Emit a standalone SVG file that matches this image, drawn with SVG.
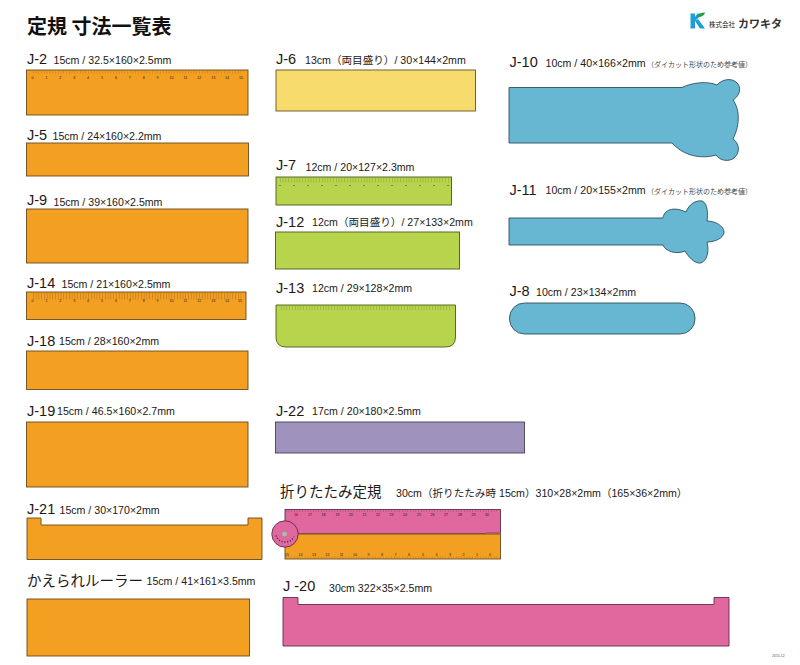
<svg xmlns="http://www.w3.org/2000/svg" width="800" height="665" viewBox="0 0 800 665">
<style>
text{font-family:"Liberation Sans","Noto Sans CJK JP",sans-serif;fill:#231815}
.d{font-size:10.6px}
.j{font-size:14.5px}
.o{fill:#f39f22;stroke:#6b4a1e;stroke-width:.9}
.y{fill:#f7db6d;stroke:#5f5426;stroke-width:.9}
.g{fill:#b7d44c;stroke:#4b5a1c;stroke-width:.9}
.b{fill:#68b7d2;stroke:#2e4f5c;stroke-width:.9}
.p{fill:#e1689f;stroke:#5e2f47;stroke-width:.9}
.v{fill:#9f92bd;stroke:#443f55;stroke-width:.9}
.k{stroke:#b5791f;stroke-width:.5;fill:none}
.kg{stroke:#8ba338;stroke-width:.5;fill:none}
.kn{font-size:3.6px;text-anchor:middle}
</style>
<g id="header">
<text x="27" y="34" font-size="20" font-weight="700" style="font-family:'Noto Sans CJK JP',sans-serif;fill:#111">定規 寸法一覧表</text>
</g>
<g id="logo">
<path d="M690.500 13.500H695V28.500H690.500Z" fill="#1d9fd6"/>
<path d="M695 21L703 13.500H697.500L695 17ZM695 21L700 28.500H705L698 19Z" fill="#1d9fd6"/>
<path d="M697 17C698 14 701 12.500 705 12.500C704.500 15.500 701 17.500 697 17Z" fill="#2b9a46"/>
<text x="709" y="27" font-size="6.500" style="font-family:'Noto Sans CJK JP',sans-serif">株式会社</text>
<text x="738" y="28" font-size="11" font-weight="700" style="font-family:'Noto Sans CJK JP',sans-serif;fill:#333">カワキタ</text>
</g>
<g id="J-2">
<text class="j" x="27" y="64">J-2</text><text class="d" x="53.500" y="64">15cm / 32.5×160×2.5mm</text>
<rect class="o" x="26.500" y="70" width="221.500" height="45"/>
<line class="k" x1="33" y1="72" x2="241" y2="72" style="stroke-width:3;stroke-dasharray:.5 2.270"/>
<g class="kn"><text x="32.500" y="78.500">0</text><text x="46.400" y="78.500">1</text><text x="60.300" y="78.500">2</text><text x="74.200" y="78.500">3</text><text x="88.100" y="78.500">4</text><text x="102" y="78.500">5</text><text x="115.900" y="78.500">6</text><text x="129.800" y="78.500">7</text><text x="143.700" y="78.500">8</text><text x="157.600" y="78.500">9</text><text x="171.500" y="78.500">10</text><text x="185.400" y="78.500">11</text><text x="199.300" y="78.500">12</text><text x="213.200" y="78.500">13</text><text x="227.100" y="78.500">14</text><text x="241" y="78.500">15</text></g>
</g>
<g id="J-5"><text class="j" x="27" y="140">J-5</text><text class="d" x="52.500" y="140">15cm / 24×160×2.2mm</text><rect class="o" x="26.500" y="143" width="222" height="33"/></g>
<g id="J-9"><text class="j" x="27" y="205">J-9</text><text class="d" x="53.500" y="206">15cm / 39×160×2.5mm</text><rect class="o" x="26.500" y="209" width="221.500" height="54"/></g>
<g id="J-14"><text class="j" x="27" y="288">J-14</text><text class="d" x="61.500" y="288">15cm / 21×160×2.5mm</text><rect class="o" x="26.500" y="292" width="219.500" height="27.500"/>
<line class="k" x1="33" y1="296" x2="241" y2="296" style="stroke-width:7;stroke-dasharray:.6 2.170"/>
<g class="kn"><text x="32.500" y="301.500">0</text><text x="46.400" y="301.500">1</text><text x="60.300" y="301.500">2</text><text x="74.200" y="301.500">3</text><text x="88.100" y="301.500">4</text><text x="102" y="301.500">5</text><text x="115.900" y="301.500">6</text><text x="129.800" y="301.500">7</text><text x="143.700" y="301.500">8</text><text x="157.600" y="301.500">9</text><text x="171.500" y="301.500">10</text><text x="185.400" y="301.500">11</text><text x="199.300" y="301.500">12</text><text x="213.200" y="301.500">13</text><text x="227.100" y="301.500">14</text><text x="240" y="301.500">15</text></g>
</g>
<g id="J-18"><text class="j" x="27" y="346">J-18</text><text class="d" x="59" y="345">15cm / 28×160×2mm</text><rect class="o" x="26.500" y="351" width="221.500" height="38.500"/></g>
<g id="J-19"><text class="j" x="27" y="416">J-19</text><text class="d" x="57" y="415">15cm / 46.5×160×2.7mm</text><rect class="o" x="26.500" y="422" width="221.500" height="65"/></g>
<g id="J-21"><text class="j" x="27" y="514">J-21</text><text class="d" x="59.500" y="514">15cm / 30×170×2mm</text><path class="o" d="M27 518H41V525H248V518H262V559.500H27Z"/></g>
<g id="kaerare"><text x="27" y="586" font-size="14.500">かえられルーラー</text><text class="d" x="146.500" y="585">15cm / 41×161×3.5mm</text><rect class="o" x="27" y="599" width="222.500" height="57"/></g>
<g id="J-6"><text class="j" x="276" y="64">J-6</text><text class="d" x="305" y="64">13cm（両目盛り）/ 30×144×2mm</text><rect class="y" x="276" y="70" width="199.500" height="41"/></g>
<g id="J-7"><text class="j" x="276" y="170">J-7</text><text class="d" x="305.500" y="171">12cm / 20×127×2.3mm</text><rect class="g" x="276" y="177" width="175.500" height="28"/>
<line class="kg" x1="280" y1="180" x2="449" y2="180" style="stroke-width:5;stroke-dasharray:.5 2.300"/>
<g fill="#333"><circle cx="280" cy="185.500" r=".6"/><circle cx="294" cy="185.500" r=".6"/><circle cx="308" cy="185.500" r=".6"/><circle cx="322" cy="185.500" r=".6"/><circle cx="336" cy="185.500" r=".6"/><circle cx="350" cy="185.500" r=".6"/><circle cx="364" cy="185.500" r=".6"/><circle cx="378" cy="185.500" r=".6"/><circle cx="392" cy="185.500" r=".6"/><circle cx="406" cy="185.500" r=".6"/><circle cx="420" cy="185.500" r=".6"/><circle cx="434" cy="185.500" r=".6"/><circle cx="448" cy="185.500" r=".6"/></g>
</g>
<g id="J-12"><text class="j" x="276" y="227">J-12</text><text class="d" x="312" y="226">12cm（両目盛り）/ 27×133×2mm</text><rect class="g" x="275.500" y="232" width="184" height="37"/></g>
<g id="J-13"><text class="j" x="276" y="293">J-13</text><text class="d" x="312" y="292">12cm / 29×128×2mm</text><path class="g" d="M276 305H455.500V337Q455.500 347 445.500 347H286Q276 347 276 337Z"/>
<line class="kg" x1="281" y1="308" x2="450" y2="308" style="stroke-width:4;stroke-dasharray:.5 2.300"/>
</g>
<g id="J-22"><text class="j" x="276" y="416">J-22</text><text class="d" x="312" y="415">17cm / 20×180×2.5mm</text><rect class="v" x="275.500" y="422" width="249" height="31"/></g>
<g id="folding">
<text x="280" y="497" font-size="14.500">折りたたみ定規</text><text class="d" x="396" y="497">30cm（折りたたみ時 15cm）310×28×2mm（165×36×2mm）</text>
<rect class="p" x="285" y="509.500" width="215.500" height="24.500"/>
<rect class="o" x="285" y="534" width="215.500" height="25"/>
<path d="M486 532H500.500V534H486Z" fill="#a65f6f"/>
<line x1="286" y1="511" x2="499" y2="511" style="stroke:#a04f78;stroke-width:2;stroke-dasharray:.5 2.200"/>
<line class="k" x1="286" y1="557.500" x2="499" y2="557.500" style="stroke-width:2;stroke-dasharray:.5 2.200"/>
<g class="kn"><text x="296" y="515.500">16</text><text x="310" y="515.500">17</text><text x="323.500" y="515.500">18</text><text x="337.500" y="515.500">19</text><text x="351" y="515.500">20</text><text x="364.500" y="515.500">21</text><text x="378" y="515.500">22</text><text x="391.500" y="515.500">23</text><text x="405" y="515.500">24</text><text x="419" y="515.500">25</text><text x="432.500" y="515.500">26</text><text x="446" y="515.500">27</text><text x="460" y="515.500">28</text><text x="473.500" y="515.500">29</text><text x="487" y="515.500">30</text></g>
<g class="kn"><text x="287" y="556">15</text><text x="300.500" y="556">14</text><text x="314" y="556">13</text><text x="327.500" y="556">12</text><text x="341.500" y="556">11</text><text x="355" y="556">10</text><text x="368.500" y="556">9</text><text x="382" y="556">8</text><text x="395.500" y="556">7</text><text x="409" y="556">6</text><text x="423" y="556">5</text><text x="436.500" y="556">4</text><text x="450" y="556">3</text><text x="463.500" y="556">2</text><text x="477" y="556">1</text><text x="490" y="556">0</text></g>
<circle cx="285" cy="534" r="13.200" fill="#e1689f" stroke="#5e2f47" stroke-width=".9"/>
<circle cx="284.500" cy="534" r="2.800" fill="#b9b4b4" stroke="#777" stroke-width=".4"/>
<path d="M276 535.500C277 539 280.500 542 285 542C289 542 292.500 540 294 536.500" fill="none" stroke="#333" stroke-width="1.500" stroke-dasharray="1 1.800"/>
</g>
<g id="J-20"><text class="j" x="283" y="591">J -20</text><text class="d" x="329" y="592">30cm 322×35×2.5mm</text><path class="p" d="M283 597.500H298V604.500H714V597.500H729V646H283Z"/></g>
<g id="J-10"><text class="j" x="509.500" y="67">J-10</text><text class="d" x="545.500" y="67">10cm / 40×166×2mm</text><text x="647" y="67" font-size="7" style="fill:#444">（ダイカット形状のため参考値）</text>
<path class="b" d="M509 87.500H682C691 83 707 80.500 717 85C722 79 733 77 738 84C742 90 738 97 733 100C739 108 741 123 733 139C739 143 741 152 734 158C729 162 720 161 716 155C706 158 687 159 672 143H509Z"/></g>
<g id="J-11"><text class="j" x="509.500" y="195">J-11</text><text class="d" x="545.500" y="194">10cm / 20×155×2mm</text><text x="647" y="194" font-size="7" style="fill:#444">（ダイカット形状のため参考値）</text>
<path class="b" d="M509 218H663C664 210 673 206 686 212C689 204 696 200 702 201C708 203 708 215 707 221C715 221 724 226 724 232C724 238 715 242 707 242C709 250 708 260 701 263C694 264 688 256 685 251C676 255 665 251 663 245H509Z"/></g>
<g id="J-8"><text class="j" x="509.500" y="296">J-8</text><text class="d" x="536" y="296">10cm / 23×134×2mm</text><rect class="b" x="509.500" y="303" width="185.500" height="31" rx="15"/></g>
<g id="date"><text x="772" y="657" font-size="3.500" style="fill:#555">2015.12</text></g>
</svg>
